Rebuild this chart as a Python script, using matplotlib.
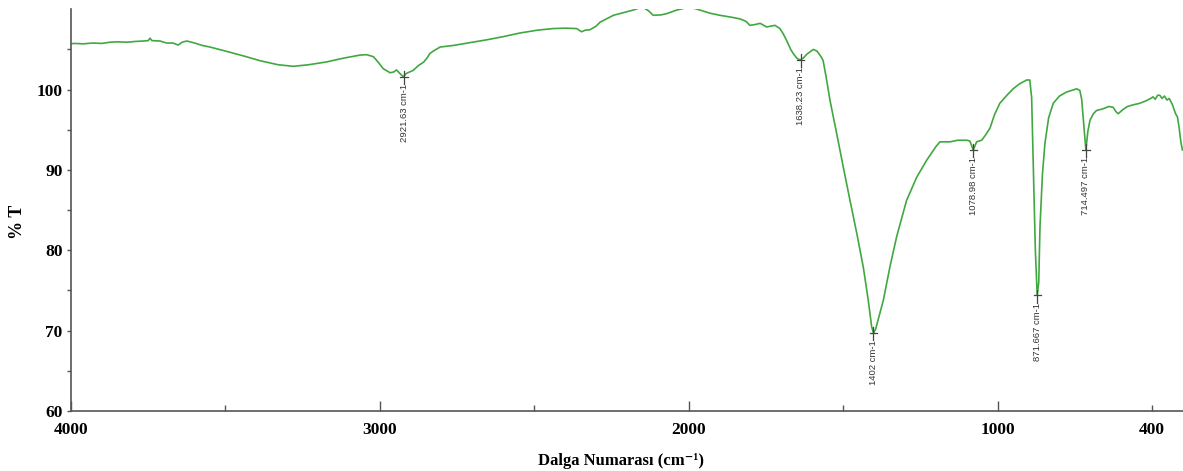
import matplotlib
matplotlib.use("Agg")
import matplotlib.pyplot as plt

# ---- data ----
wavenumber = [4000, 3990, 3960, 3930, 3900, 3874, 3850, 3820, 3790, 3765, 3750, 3744, 3738,
              3712, 3690, 3670, 3653, 3640, 3625, 3600, 3575, 3550, 3500, 3442, 3388, 3330,
              3280, 3230, 3172, 3120, 3064, 3043, 3021, 3005, 2989, 2967, 2955, 2946, 2935,
              2924, 2915, 2892, 2875, 2859, 2848, 2838, 2827, 2805, 2762, 2700, 2654, 2600,
              2546, 2490, 2439, 2400, 2363, 2347, 2335, 2320, 2300, 2287, 2244, 2210, 2180,
              2150, 2130, 2115, 2090, 2072, 2039, 2007, 1980, 1964, 1930, 1899, 1860, 1834,
              1815, 1802, 1785, 1769, 1748, 1735, 1721, 1705, 1695, 1683, 1670, 1662, 1650,
              1640, 1630, 1618, 1597, 1585, 1570, 1565, 1555, 1543, 1521, 1500, 1478, 1456,
              1435, 1419, 1408, 1402, 1395, 1370, 1349, 1327, 1295, 1262, 1230, 1200, 1187,
              1154, 1130, 1100, 1090, 1079, 1068, 1052, 1040, 1025, 1010, 993, 970, 950, 930,
              906, 896, 890, 885, 878, 872, 867, 863, 855, 847, 835, 820, 800, 777, 760, 744,
              734, 728, 722, 714.5, 708, 701, 690, 680, 660, 640, 626, 618, 610, 595, 580,
              562, 540, 520, 505, 497, 490, 482, 475, 468, 460, 452, 445, 435, 424, 418, 413,
              407, 402]
transmittance = [105.7, 105.75, 105.7, 105.8, 105.75, 105.9, 105.95, 105.9, 106.0, 106.05, 106.1,
                 106.4, 106.1, 106.05, 105.8, 105.8, 105.55, 105.9, 106.05, 105.8, 105.5, 105.3,
                 104.8, 104.2, 103.6, 103.1, 102.9, 103.1, 103.45, 103.9, 104.3, 104.35, 104.1,
                 103.4, 102.6, 102.1, 102.2, 102.45, 102.0, 101.6, 102.0, 102.4, 103.0, 103.4,
                 103.9, 104.5, 104.8, 105.3, 105.5, 105.9, 106.2, 106.6, 107.05, 107.4, 107.6,
                 107.65, 107.6, 107.2, 107.4, 107.45, 107.9, 108.4, 109.25, 109.6, 109.9, 110.3,
                 109.8, 109.25, 109.3, 109.45, 109.9, 110.2, 110.1, 109.9, 109.5, 109.25, 109.0,
                 108.8, 108.5, 108.0, 108.1, 108.25, 107.8, 107.9, 108.0, 107.6, 107.0, 106.1,
                 105.0, 104.5, 103.9, 103.7, 103.9, 104.4, 105.0, 104.8, 104.0, 103.6, 101.5,
                 98.7, 94.5, 90.4, 86.2, 82.1, 77.9, 73.8, 70.5, 69.7, 70.2, 73.8, 77.9, 81.7,
                 86.2, 89.1, 91.2, 92.9, 93.5, 93.5, 93.7, 93.7, 93.6, 92.5, 93.5, 93.7, 94.3,
                 95.2, 96.9, 98.3, 99.3, 100.1, 100.7, 101.2, 101.2, 99.0, 91.2, 80.0, 74.4,
                 76.0, 82.9, 89.5, 93.3, 96.5, 98.3, 99.2, 99.7, 99.9, 100.1, 99.9, 98.8, 96.0,
                 92.5, 94.8, 96.2, 97.0, 97.4, 97.6, 97.9, 97.8, 97.3, 97.0, 97.5, 97.9, 98.1,
                 98.3, 98.6, 98.9, 99.1, 98.8, 99.3, 99.3, 98.9, 99.2, 98.7, 98.9, 98.2, 97.0,
                 96.6, 95.4, 93.5, 92.5]

peak_wn = [2921.63, 1638.23, 1402, 1078.98, 871.667, 714.497]
peak_T = [101.6, 103.7, 69.7, 92.5, 74.4, 92.5]
peak_labels = ["2921.63 cm-1", "1638.23 cm-1", "1402 cm-1", "1078.98 cm-1",
               "871.667 cm-1", "714.497 cm-1"]

x_major = [4000, 3000, 2000, 1000]
x_major_labels = ["4000", "3000", "2000", "1000"]
x_minor = [3500, 2500, 1500, 500]
x_minor_labels = ["", "", "", "400"]
y_major = [60, 70, 80, 90, 100]
y_minor = [65, 75, 85, 95, 105]

# ---- figure ----
fig = plt.figure(figsize=(11.83, 4.71), dpi=100)
ax = fig.add_axes([0.060, 0.1274, 0.940, 0.8529])

ax.plot(wavenumber, transmittance, color="#40a840", lw=1.2)

ax.set_xlim(4000, 400)
ax.set_ylim(60, 110)

for s in ("top", "right"):
    ax.spines[s].set_visible(False)
for s in ("left", "bottom"):
    ax.spines[s].set_color("#555555")
    ax.spines[s].set_linewidth(1.2)

tick_font = dict(family="Liberation Serif", weight="bold", size=12.5)
ax.set_xticks(x_major)
ax.set_xticklabels(x_major_labels, fontdict=tick_font)
ax.set_xticks(x_minor, minor=True)
ax.set_xticklabels(x_minor_labels, fontdict=tick_font, minor=True)
ax.set_yticks(y_major)
ax.set_yticklabels([str(v) for v in y_major], fontdict=tick_font)
ax.set_yticks(y_minor, minor=True)

ax.tick_params(axis="x", which="major", direction="in", length=7, width=1, color="#555555", pad=8)
ax.tick_params(axis="x", which="minor", direction="in", length=4, width=1, color="#555555", pad=8)
ax.tick_params(axis="y", which="both", direction="out", length=3, width=1, color="#555555", pad=3)

# peak annotations
for wn, t, lab in zip(peak_wn, peak_T, peak_labels):
    ax.plot([wn, wn], [t + 0.7, t - 0.9], color="#444444", lw=0.9)
    ax.plot([wn - 12, wn + 12], [t, t], color="#444444", lw=0.9)
    ax.text(wn, t - 0.9, lab, rotation=90, ha="center", va="top",
            fontsize=6.8, family="Liberation Sans", color="#333333")

fig.text(621 / 1183, 1 - 461 / 471, "Dalga Numarası (cm\u207b\u00b9)",
         ha="center", va="center", family=["Liberation Serif", "DejaVu Serif"],
         weight="bold", size=12)
fig.text(17 / 1183, 1 - 222 / 471, "% T", rotation=90, ha="center", va="center",
         family="Liberation Serif", weight="bold", size=13)

fig.savefig("out.png", dpi=100)
